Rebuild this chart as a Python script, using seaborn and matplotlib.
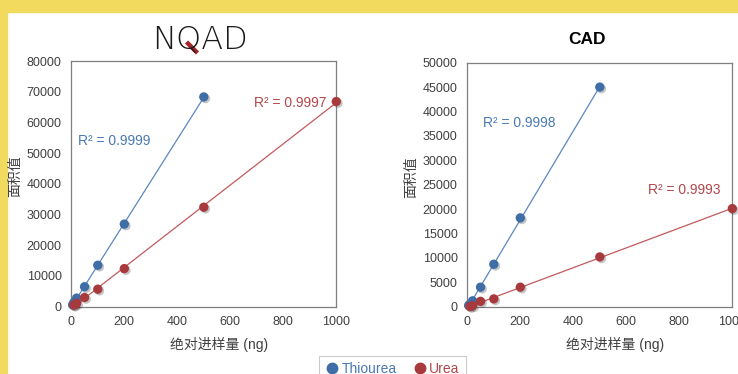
import numpy as np
import pandas as pd
import matplotlib
matplotlib.use("Agg")
import matplotlib.pyplot as plt
import matplotlib.patheffects as pe
from matplotlib.lines import Line2D
from matplotlib.patches import Rectangle
import seaborn as sns

sns.set_theme(style="white")
plt.rcParams["font.family"] = ["Liberation Sans", "Noto Sans CJK SC", "DejaVu Sans"]

# Calibration data: injected amount (ng) vs peak area
compounds = ["Thiourea", "Urea"]
nqad_thiourea_x = [5, 10, 20, 50, 100, 200, 500]
nqad_thiourea_y = [600, 1400, 2800, 6500, 13500, 26900, 68300]
nqad_urea_x = [10, 20, 50, 100, 200, 500, 1000]
nqad_urea_y = [500, 1100, 3000, 5700, 12400, 32400, 66800]
cad_thiourea_x = [5, 10, 20, 50, 100, 200, 500]
cad_thiourea_y = [250, 500, 1200, 4000, 8700, 18200, 45000]
cad_urea_x = [10, 20, 50, 100, 200, 500, 1000]
cad_urea_y = [50, 200, 1100, 1600, 4000, 10200, 20100]
nqad_r2 = ["0.9999", "0.9997"]
cad_r2 = ["0.9998", "0.9993"]
x_ticks = [0, 200, 400, 600, 800, 1000]
nqad_y_ticks = [0, 10000, 20000, 30000, 40000, 50000, 60000, 70000, 80000]
cad_y_ticks = [0, 5000, 10000, 15000, 20000, 25000, 30000, 35000, 40000, 45000, 50000]
x_label = "绝对进样量 (ng)"
y_label = "面积值"

marker_col = {"Thiourea": "#3F6DA6", "Urea": "#A8393C"}
line_col = {"Thiourea": "#5B86BE", "Urea": "#C25A5C"}
text_col = {"Thiourea": "#4A79B3", "Urea": "#B2474A"}
axis_text = "#404040"


def frame(tx, ty, ux, uy):
    return pd.concat([
        pd.DataFrame({"x": tx, "y": ty, "compound": "Thiourea"}),
        pd.DataFrame({"x": ux, "y": uy, "compound": "Urea"}),
    ], ignore_index=True)


nqad = frame(nqad_thiourea_x, nqad_thiourea_y, nqad_urea_x, nqad_urea_y)
cad = frame(cad_thiourea_x, cad_thiourea_y, cad_urea_x, cad_urea_y)

fig = plt.figure(figsize=(7.38, 3.74), dpi=100)
W, H = 738, 374

# page background bands
fig.patches.append(Rectangle((0, 1 - 12 / H), 1, 12 / H, transform=fig.transFigure,
                             color="#F2DA5E", zorder=-5))
fig.patches.append(Rectangle((0, 0), 7 / W, 1, transform=fig.transFigure,
                             color="#F2DA5E", zorder=-5))

ax1 = fig.add_axes([71.3 / W, 1 - 306.7 / H, 265 / W, 245.7 / H])
ax2 = fig.add_axes([467.3 / W, 1 - 306.7 / H, 265 / W, 244 / H])
for a in (ax1, ax2):
    a.patch.set_alpha(0)


def draw_panel(ax, df, yticks, r2, r2_pos, ylab_x):
    for name in compounds:
        sub = df[df["compound"] == name]
        sns.regplot(data=sub, x="x", y="y", ax=ax, ci=None, truncate=True,
                    scatter=False, line_kws=dict(color=line_col[name], lw=0.9))
    sns.scatterplot(data=df, x="x", y="y", hue="compound", palette=marker_col,
                    s=45, edgecolor="none", ax=ax, legend=False, clip_on=False,
                    zorder=4)
    ax.collections[-1].set_path_effects([
        pe.SimplePatchShadow(offset=(1.2, -1.2), shadow_rgbFace="k", alpha=0.25),
        pe.Normal()])
    ax.set_xlim(0, 1000)
    ax.set_ylim(yticks[0], yticks[-1])
    ax.set_xticks(x_ticks)
    ax.set_yticks(yticks)
    ax.tick_params(axis="x", direction="in", length=4, width=0.8, colors="#7f7f7f",
                   labelcolor=axis_text, labelsize=9, pad=7)
    ax.tick_params(axis="y", direction="out", length=4, width=0.8, colors="#7f7f7f",
                   labelcolor=axis_text, labelsize=9, pad=3)
    for sp in ax.spines.values():
        sp.set_color("#7f7f7f")
        sp.set_linewidth(0.9)
    ax.set_xlabel(x_label, fontsize=10, color=axis_text)
    ax.set_ylabel(y_label, fontsize=10, color=axis_text)
    ax.xaxis.set_label_coords(0.556, -0.124)
    ax.yaxis.set_label_coords(ylab_x, 0.53)
    for name, val, (px, py) in zip(compounds, r2, r2_pos):
        ax.text(px, py, f"R² = {val}", color=text_col[name], fontsize=10,
                ha="left", va="center")


draw_panel(ax1, nqad, nqad_y_ticks, nqad_r2, [(25, 53950), (690, 66330)], -0.184)
draw_panel(ax2, cad, cad_y_ticks, cad_r2, [(60, 37580), (681, 23910)], -0.186)

# panel titles
fig.text(200 / W, 1 - 39.5 / H, "NQAD", fontsize=23, fontweight=200,
         family="DejaVu Sans", color="#1a1a1a", ha="center", va="center")
fig.add_artist(Line2D([186.5 / W, 197.5 / W], [1 - 42 / H, 1 - 53 / H],
                      transform=fig.transFigure, color="#A3262B", lw=3.2,
                      solid_capstyle="butt"))
fig.text(587 / W, 1 - 39 / H, "CAD", fontsize=12.5, fontweight="bold",
         color="black", ha="center", va="center")

handles = [Line2D([], [], ls="none", marker="o", ms=7.5, color=marker_col[n]) for n in compounds]
leg = fig.legend(handles, compounds, loc="upper left", ncol=2,
                 bbox_to_anchor=(319.3 / W, 1 - 356 / H), borderaxespad=0,
                 frameon=True, fancybox=False,
                 fontsize=10, handletextpad=0.2, columnspacing=1.1, borderpad=0.45,
                 handlelength=1.0)
leg.get_frame().set_edgecolor("#BFBFBF")
leg.get_frame().set_linewidth(0.8)
for t, n in zip(leg.get_texts(), compounds):
    t.set_color(text_col[n])

fig.savefig("out.png", dpi=100)
